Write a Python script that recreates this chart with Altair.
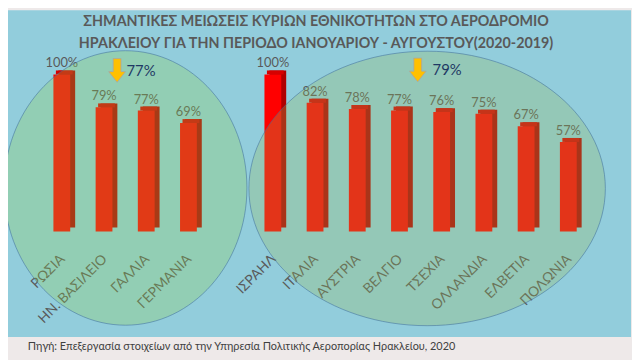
import altair as alt
import pandas as pd

# ---------------- data ----------------
title_lines = [
    "ΣΗΜΑΝΤΙΚΕΣ ΜΕΙΩΣΕΙΣ ΚΥΡΙΩΝ ΕΘΝΙΚΟΤΗΤΩΝ ΣΤΟ ΑΕΡΟΔΡΟΜΙΟ",
    "ΗΡΑΚΛΕΙΟΥ ΓΙΑ ΤΗΝ ΠΕΡΙΟΔΟ ΙΑΝΟΥΑΡΙΟΥ - ΑΥΓΟΥΣΤΟΥ(2020-2019)",
]
group1_countries = ["ΡΩΣΙΑ", "ΗΝ. ΒΑΣΙΛΕΙΟ", "ΓΑΛΛΙΑ", "ΓΕΡΜΑΝΙΑ"]
group1_declines = [1.00, 0.79, 0.77, 0.69]
group2_countries = ["ΙΣΡΑΗΛ", "ΙΤΑΛΙΑ", "ΑΥΣΤΡΙΑ", "ΒΕΛΓΙΟ", "ΤΣΕΧΙΑ",
                    "ΟΛΛΑΝΔΙΑ", "ΕΛΒΕΤΙΑ", "ΠΟΛΩΝΙΑ"]
group2_declines = [1.00, 0.82, 0.78, 0.77, 0.76, 0.75, 0.67, 0.57]
group_averages = [0.77, 0.79]
source_text = ("Πηγή: Επεξεργασία στοιχείων από την Υπηρεσία Πολιτικής "
               "Αεροπορίας Ηρακλείου, 2020")

# ---------------- build ----------------
spacer = " "
domain = group1_countries + [spacer] + group2_countries
df = pd.DataFrame({
    "country": group1_countries + group2_countries,
    "decline": group1_declines + group2_declines,
})
one = pd.DataFrame({"k": [0]})

FONT = "Lato"
W, H = 632, 352

xenc = alt.X("country:N", axis=None,
             scale=alt.Scale(domain=domain, range=[46, 576],
                             paddingInner=0.602, paddingOuter=0))
yenc = alt.Y("decline:Q", axis=None,
             scale=alt.Scale(domain=[0, 1], range=[224, 65], nice=False, zero=True))


def ellipse_path(a):
    k = 0.5523
    f = lambda v: f"{v:.4f}"
    return (f"M {f(a)} 0 C {f(a)} {f(k)} {f(a*k)} 1 0 1 "
            f"C {f(-a*k)} 1 {f(-a)} {f(k)} {f(-a)} 0 "
            f"C {f(-a)} {f(-k)} {f(-a*k)} -1 0 -1 "
            f"C {f(a*k)} -1 {f(a)} {f(-k)} {f(a)} 0 Z")


arrow_path = ("M -0.333 -1 L 0.333 -1 L 0.333 0.1 L 0.708 0.1 L 0 1 "
              "L -0.708 0.1 L -0.333 0.1 Z")

bg = alt.Chart(one).mark_rect(color="#92CDDC").encode(
    x=alt.value(0), x2=alt.value(631), y=alt.value(0), y2=alt.value(331))

side = alt.Chart(df).mark_bar(color="#B00000", xOffset=5, yOffset=-4).encode(
    x=xenc, y=yenc)
top = alt.Chart(df).mark_tick(color="#D60000", thickness=4, size=17,
                              xOffset=2.5, yOffset=-2, opacity=1).encode(
    x=xenc, y=yenc)
front = alt.Chart(df).mark_bar(color="#FF0000").encode(x=xenc, y=yenc)

values = alt.Chart(df).mark_text(font=FONT, fontSize=13, color="#595959",
                                 baseline="alphabetic", dy=-7).encode(
    x=xenc, y=yenc, text=alt.Text("decline:Q", format=".0%"))

cats = alt.Chart(df).mark_text(font=FONT, fontSize=14, color="#595959",
                               angle=315, align="right", baseline="middle",
                               xOffset=1).encode(
    x=xenc, y=alt.value(250), text="country:N")

ell_left = alt.Chart(one).mark_point(
    shape=ellipse_path(123 / 139), size=278 ** 2, filled=True,
    fill="#92D050", fillOpacity=0.28, stroke="#41719C", strokeWidth=0.75,
    strokeOpacity=0.75, opacity=1).encode(x=alt.value(119), y=alt.value(180))
ell_right = alt.Chart(one).mark_point(
    shape=ellipse_path(180.5 / 139), size=278 ** 2, filled=True,
    fill="#9BBB59", fillOpacity=0.28, stroke="#41719C", strokeWidth=0.75,
    strokeOpacity=0.75, opacity=1).encode(x=alt.value(424.5), y=alt.value(180.5))

arrow_l = alt.Chart(one).mark_point(
    shape=arrow_path, size=576, filled=True, fill="#FFC000",
    stroke="#A6A6A6", strokeWidth=0.8, opacity=1).encode(
    x=alt.value(110.5), y=alt.value(61))
arrow_r = alt.Chart(one).mark_point(
    shape=arrow_path, size=576, filled=True, fill="#FFC000",
    stroke="#A6A6A6", strokeWidth=0.8, opacity=1).encode(
    x=alt.value(415), y=alt.value(60.5))

avg_l = alt.Chart(pd.DataFrame({"v": [group_averages[0]]})).mark_text(
    font=FONT, fontSize=15, color="#1F3864", align="left", baseline="middle").encode(
    x=alt.value(120), y=alt.value(62), text=alt.Text("v:Q", format=".0%"))
avg_r = alt.Chart(pd.DataFrame({"v": [group_averages[1]]})).mark_text(
    font=FONT, fontSize=15, color="#1F3864", align="left", baseline="middle").encode(
    x=alt.value(430), y=alt.value(61), text=alt.Text("v:Q", format=".0%"))

title1 = alt.Chart(pd.DataFrame({"t": [title_lines[0]]})).mark_text(
    font=FONT, fontSize=14.5, fontWeight="bold", color="#595959",
    align="center", baseline="middle").encode(
    x=alt.value(312), y=alt.value(12), text="t:N")
title2 = alt.Chart(pd.DataFrame({"t": [title_lines[1]]})).mark_text(
    font=FONT, fontSize=14.5, fontWeight="bold", color="#595959",
    align="center", baseline="middle").encode(
    x=alt.value(312), y=alt.value(34), text="t:N")

source = alt.Chart(pd.DataFrame({"t": [source_text]})).mark_text(
    font=FONT, fontSize=11, color="#404040", align="left",
    baseline="middle").encode(x=alt.value(20), y=alt.value(341), text="t:N")

chart = alt.layer(
    bg, side, top, front, values, cats, ell_left, ell_right,
    arrow_l, arrow_r, avg_l, avg_r, title1, title2, source,
).properties(
    width=W, height=H,
    autosize=alt.AutoSizeParams(type="none"),
    padding=0,
    background="#EEE9E9",
).configure_view(stroke=None)

chart.save("out.html", embed_options={"renderer": "svg", "actions": False})
